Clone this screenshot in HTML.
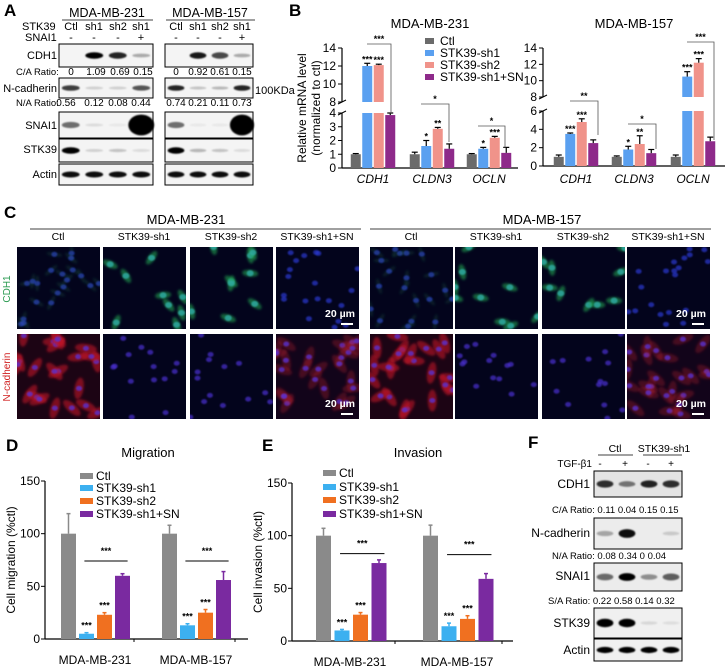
<!DOCTYPE html>
<html><head><meta charset="utf-8">
<style>
html,body{margin:0;padding:0;background:#fff;}
svg{display:block;font-family:"Liberation Sans",Arial,sans-serif;}
</style></head>
<body>
<svg id="fig" width="726" height="671" viewBox="0 0 726 671" xmlns="http://www.w3.org/2000/svg">
<defs>
<filter id="blur1" x="-50%" y="-50%" width="200%" height="200%"><feGaussianBlur stdDeviation="1.3"/></filter>
<filter id="blur2" x="-50%" y="-50%" width="200%" height="200%"><feGaussianBlur stdDeviation="0.9"/></filter>
</defs>
<rect width="726" height="671" fill="#fff"/>

<text x="4" y="16" font-size="17" font-weight="bold">A</text>
<text x="289" y="16" font-size="17" font-weight="bold">B</text>
<text x="4" y="218" font-size="17" font-weight="bold">C</text>
<text x="6" y="451" font-size="17" font-weight="bold">D</text>
<text x="262" y="451" font-size="17" font-weight="bold">E</text>
<text x="528" y="448" font-size="17" font-weight="bold">F</text>

<g id="panelA" font-size="11">
  <text x="107" y="17" text-anchor="middle" font-size="12.5">MDA-MB-231</text>
  <line x1="62" y1="20" x2="153" y2="20" stroke="#000" stroke-width="0.8"/>
  <text x="210" y="17" text-anchor="middle" font-size="12.5">MDA-MB-157</text>
  <line x1="166" y1="20" x2="255" y2="20" stroke="#000" stroke-width="0.8"/>
  <text x="22" y="30">STK39</text>
  <text x="25" y="41">SNAI1</text>
  <text x="57" y="59" text-anchor="end">CDH1</text>
  <text x="16" y="75" font-size="9.5">C/A Ratio:</text>
  <text x="57" y="92" text-anchor="end">N-cadherin</text>
  <text x="16" y="106" font-size="9.5">N/A Ratio:</text>
  <text x="57" y="129" text-anchor="end">SNAI1</text>
  <text x="57" y="153" text-anchor="end">STK39</text>
  <text x="57" y="178" text-anchor="end">Actin</text>
  <text x="255" y="94" font-size="11">100KDa</text>
</g>

<g id="panelC">
  <text x="186" y="224" text-anchor="middle" font-size="13">MDA-MB-231</text>
  <line x1="30" y1="229" x2="361" y2="229" stroke="#000" stroke-width="0.8"/>
  <text x="542" y="224" text-anchor="middle" font-size="13">MDA-MB-157</text>
  <line x1="370" y1="229" x2="711" y2="229" stroke="#000" stroke-width="0.8"/>
  <text x="10" y="289" font-size="10" fill="#2a9a50" transform="rotate(-90 10 289)" text-anchor="middle">CDH1</text>
  <text x="10" y="377" font-size="10" fill="#d02020" transform="rotate(-90 10 377)" text-anchor="middle">N-cadherin</text>
</g>

<g id="panelF" font-size="11">
  <text x="615" y="452" text-anchor="middle" font-size="10.5">Ctl</text>
  <line x1="598" y1="455" x2="633" y2="455" stroke="#000" stroke-width="0.8"/>
  <text x="664" y="452" text-anchor="middle" font-size="10.5">STK39-sh1</text>
  <line x1="643" y1="455" x2="682" y2="455" stroke="#000" stroke-width="0.8"/>
  <text x="592" y="467" text-anchor="end" font-size="10">TGF-β1</text>
  <text x="600" y="467" text-anchor="middle" font-size="10">-</text>
  <text x="625" y="467" text-anchor="middle" font-size="10">+</text>
  <text x="648" y="467" text-anchor="middle" font-size="10">-</text>
  <text x="671" y="467" text-anchor="middle" font-size="10">+</text>
  <text x="590" y="488" text-anchor="end" font-size="12">CDH1</text>
  <text x="552" y="513" font-size="9.5">C/A Ratio: 0.11  0.04 0.15 0.15</text>
  <text x="590" y="537" text-anchor="end" font-size="12">N-cadherin</text>
  <text x="552" y="559" font-size="9.5">N/A Ratio:  0.08  0.34   0     0.04</text>
  <text x="590" y="580" text-anchor="end" font-size="12">SNAI1</text>
  <text x="548" y="604" font-size="9.5">S/A Ratio: 0.22  0.58 0.14 0.32</text>
  <text x="590" y="627" text-anchor="end" font-size="12">STK39</text>
  <text x="590" y="654" text-anchor="end" font-size="12">Actin</text>
</g>
</svg>

<script>
// ===== Panel B data =====
var bGenes = ["CDH1","CLDN3","OCLN"];
var bGroups = ["Ctl","STK39-sh1","STK39-sh2","STK39-sh1+SN"];
var b231Ctl = [1, 1, 1];
var b231Sh1 = [12.0, 1.6, 1.4];
var b231Sh2 = [12.1, 2.85, 2.2];
var b231SN = [3.85, 1.4, 1.1];
var b231Err = [[0.05,0.3,0.1,0.15],[0.15,0.4,0.1,0.35],[0.05,0.1,0.1,0.4]];
var b157Ctl = [1, 1, 1];
var b157Sh1 = [3.5, 1.8, 10.5];
var b157Sh2 = [4.8, 2.4, 12.2];
var b157SN = [2.5, 1.4, 2.7];
var b157Err = [[0.2,0.1,0.35,0.35],[0.1,0.35,0.9,0.4],[0.2,0.6,0.5,0.45]];
var b231Stars = [["","***","***",""],["","*","**",""],["","*","***",""]];
var b157Stars = [["","***","***",""],["","*","**",""],["","***","***",""]];
var bLowTicks231 = [0,1,2,3,4];
var bLowTicks157 = [0,2,4,6];
var bHighTicks = [8,10,12,14];

// ===== Panel D / E data =====
var deLines = ["MDA-MB-231","MDA-MB-157"];
var deGroups = ["Ctl","STK39-sh1","STK39-sh2","STK39-sh1+SN"];
var migCtl = [100, 100];
var migSh1 = [5, 13];
var migSh2 = [23, 25];
var migSN = [60, 56];
var migErr = [[19,1,2,2],[8,1.5,3,8]];
var migSigLevel = [74, 74];
var invCtl = [100, 100];
var invSh1 = [10, 14];
var invSh2 = [25, 21];
var invSN = [74, 59];
var invErr = [[7,1,2,3],[10,3,3,5]];
var invSigLevel = [83, 82];
var deTicks = [0,50,100,150];

// ===== Blot data (band intensities) =====
var aCDH1_231 = [0, 1.0, 0.85, 0.3];
var aCDH1_157 = [0, 0.9, 0.7, 0.3];
var aNcad_231 = [0.75, 0.15, 0.15, 0.65];
var aNcad_157 = [0.85, 0.2, 0.25, 0.85];
var aSnai_231 = [0.55, 0.1, 0.05, 3];
var aSnai_157 = [0.55, 0.05, 0.05, 3];
var aStk_231 = [1.0, 0.15, 0.2, 0.1];
var aStk_157 = [1.2, 0.25, 0.2, 0.1];
var aActin = [0.95, 0.95, 0.95, 0.95];
var aCA_231 = ["0","1.09","0.69","0.15"];
var aCA_157 = ["0","0.92","0.61","0.15"];
var aNA_231 = ["0.56","0.12","0.08","0.44"];
var aNA_157 = ["0.74","0.21","0.11","0.73"];
var fCDH1 = [0.8, 0.5, 0.85, 0.8];
var fNcad = [0.3, 0.95, 0, 0.15];
var fSnai = [0.55, 1.2, 0.4, 0.6];
var fStk = [1.0, 1.0, 0.1, 0.08];
var fActin = [1, 1, 1, 1];

var NS = "http://www.w3.org/2000/svg";
var svg = document.getElementById("fig");
function mk(tag, attrs, parent){
  var e = document.createElementNS(NS, tag);
  for (var k in attrs) e.setAttribute(k, attrs[k]);
  (parent||svg).appendChild(e);
  return e;
}
function txt(x,y,s,size,anchor,parent,extra){
  var t = mk("text",{x:x,y:y,"font-size":size,"text-anchor":anchor||"start"},parent);
  if(extra) for(var k in extra) t.setAttribute(k,extra[k]);
  t.textContent = s;
  return t;
}

// ===== Blots =====
function blotBox(x,y,w,h,vals,name,bg){
  var g = mk("g",{});
  
  
  mk("rect",{x:x,y:y,width:w,height:h,fill:bg||"#f4f4f4",stroke:"#000","stroke-width":1},g);
  var lw = w/vals.length;
  for (var i=0;i<vals.length;i++){
    var v = vals[i]; if (v<=0) continue;
    var cx = x + lw*(i+0.5);
    var big = v>1.5;
    var rx = big ? lw*0.55 : lw*0.38;
    var ry = big ? h*0.4 : Math.max(1.5, h*0.14*Math.min(1,v+0.3));
    var b = mk("ellipse",{cx:cx,cy:y+h/2,rx:rx,ry:ry,fill:"#000","fill-opacity":Math.min(1,big?1:v),filter:"url(#blur2)"},g);
    
    
  }
}
blotBox(59,44,94,23,aCDH1_231,"blot-cdh1-231");
blotBox(165,44,88,23,aCDH1_157,"blot-cdh1-157");
blotBox(59,78,94,20,aNcad_231,"blot-ncad-231");
blotBox(165,78,88,20,aNcad_157,"blot-ncad-157");
blotBox(59,112,94,26,aSnai_231,"blot-snai1-231");
blotBox(165,112,88,26,aSnai_157,"blot-snai1-157");
blotBox(59,139,94,23,aStk_231,"blot-stk39-231");
blotBox(165,139,88,23,aStk_157,"blot-stk39-157");
blotBox(59,164,94,21,aActin,"blot-actin-231");
blotBox(165,164,88,21,aActin,"blot-actin-157");
var lanes231=[71,94,118,141], lanes157=[176,198,220,242];
var laneHdr=["Ctl","sh1","sh2","sh1"], snaHdr=["-","-","-","+"];
for (var i=0;i<4;i++){
  txt(lanes231[i],30,laneHdr[i],11,"middle");
  txt(lanes157[i],30,laneHdr[i],11,"middle");
  txt(lanes231[i],41,snaHdr[i],11,"middle");
  txt(lanes157[i],41,snaHdr[i],11,"middle");
  txt(lanes231[i]+(i==0?0:2),75,aCA_231[i],10,"middle");
  txt(lanes157[i],75,aCA_157[i],10,"middle");
  txt(lanes231[i]-(i==0?5:0),106,aNA_231[i],10,"middle");
  txt(lanes157[i],106,aNA_157[i],10,"middle");
}
blotBox(594,471,88,26,fCDH1,"f-blot-cdh1","#e4e4e4");
blotBox(594,518,88,31,fNcad,"f-blot-ncad","#ececec");
blotBox(594,563,88,28,fSnai,"f-blot-snai1","#ececec");
blotBox(594,608,88,30,fStk,"f-blot-stk39","#f0f0f0");
blotBox(594,639,88,22,fActin,"f-blot-actin","#f0f0f0");

// ===== Immunofluorescence (decorative) =====
var seed = 7;
function rnd(){ seed = (seed*9301+49297)%233280; return seed/233280; }
function ifPanel(x,y,w,h,type,name,scale){
  var g = mk("g",{});
  
  
  var bg = type=="redhigh" ? "#1c0414" : (type=="redmid" ? "#12041a" : "#03041c");
  mk("rect",{x:x,y:y,width:w,height:h,fill:bg},g);
  var clip = mk("clipPath",{id:"c"+name},g);
  mk("rect",{x:x,y:y,width:w,height:h},clip);
  var inner = mk("g",{"clip-path":"url(#c"+name+")"},g);
  var n = type=="green"?9:(type=="redhigh"?22:(type=="redmid"?24:(type=="blue"?14:20)));
  for (var i=0;i<n;i++){
    var cx = x+rnd()*w, cy = y+rnd()*h, a = rnd()*180;
    if (type=="green"){
      mk("ellipse",{cx:cx,cy:cy,rx:8,ry:3.5,fill:"#20a050","fill-opacity":0.6,transform:"rotate("+a+" "+cx+" "+cy+")",filter:"url(#blur1)"},inner);
      mk("ellipse",{cx:cx,cy:cy,rx:3.5,ry:3,fill:"#30a8a0","fill-opacity":0.85,filter:"url(#blur2)"},inner);
    } else if (type=="redhigh" || type=="redmid"){
      mk("ellipse",{cx:cx,cy:cy,rx:11,ry:4.5,fill:"#c01828","fill-opacity":type=="redhigh"?0.6:0.3,transform:"rotate("+a+" "+cx+" "+cy+")",filter:"url(#blur1)"},inner);
      mk("ellipse",{cx:cx,cy:cy,rx:3,ry:2.5,fill:"#5a30d0","fill-opacity":0.8,filter:"url(#blur2)"},inner);
    } else {
      mk("ellipse",{cx:cx,cy:cy,rx:3,ry:2.5,fill:type=="blue"?"#4a30d0":"#2838d0","fill-opacity":0.7,filter:"url(#blur2)"},inner);
      if (type=="bluegreen") mk("ellipse",{cx:cx,cy:cy,rx:8,ry:2,fill:"#207050","fill-opacity":0.25,transform:"rotate("+a+" "+cx+" "+cy+")",filter:"url(#blur1)"},inner);
    }
  }
  if (scale){
    txt(x+w-4,y+h-12,"20 µm",10.5,"end",g,{fill:"#fff","font-weight":"bold"});
    mk("line",{x1:x+w-18,y1:y+h-5,x2:x+w-6,y2:y+h-5,stroke:"#fff","stroke-width":2},g);
  }
}
var ifCols231=[17,103,190,276], ifCols157=[370,455,542,627];
var ifLabels=["Ctl","STK39-sh1","STK39-sh2","STK39-sh1+SN"];
var row1_231=["bluegreen","green","green","bluefaint"], row2_231=["redhigh","blue","blue","redmid"];
var row1_157=["bluegreen","green","green","bluefaint"], row2_157=["redhigh","blue","blue","redmid"];
for (var i=0;i<4;i++){
  txt(ifCols231[i]+41,240,ifLabels[i],10.5,"middle");
  txt(ifCols157[i]+41,240,ifLabels[i],10.5,"middle");
  ifPanel(ifCols231[i],247,83,82,row1_231[i],"if-231-cdh1-"+i,i==3);
  ifPanel(ifCols231[i],334,83,85,row2_231[i],"if-231-ncad-"+i,i==3);
  ifPanel(ifCols157[i],247,83,82,row1_157[i],"if-157-cdh1-"+i,i==3);
  ifPanel(ifCols157[i],334,83,85,row2_157[i],"if-157-ncad-"+i,i==3);
}

// ===== Panel B charts =====
var bColors = ["#6b6b6b","#5aa0f0","#f0938a","#8e2a8a"];
function bChart(o){
  var g = mk("g",{});
  
  
  function y(v){
    if (v <= o.lowMax) return o.y0 - v*(o.y0-o.lowTop)/o.lowMax;
    return o.hiBot - (v-8)*(o.hiBot-o.hiTop)/6;
  }
  txt((o.ax+o.xend)/2,28,o.title,13,"middle",g);
  mk("line",{x1:o.ax,y1:o.y0,x2:o.ax,y2:o.lowTop,stroke:"#000","stroke-width":1.2},g);
  mk("line",{x1:o.ax,y1:o.hiBot,x2:o.ax,y2:o.hiTop,stroke:"#000","stroke-width":1.2},g);
  mk("line",{x1:o.ax-4,y1:o.lowTop+2,x2:o.ax+4,y2:o.lowTop-2,stroke:"#000"},g);
  mk("line",{x1:o.ax-4,y1:o.hiBot+2,x2:o.ax+4,y2:o.hiBot-2,stroke:"#000"},g);
  mk("line",{x1:o.ax,y1:o.y0,x2:o.xend,y2:o.y0,stroke:"#000","stroke-width":1.2},g);
  o.lowTicks.forEach(function(t){
    mk("line",{x1:o.ax-4,y1:y(t),x2:o.ax,y2:y(t),stroke:"#000"},g);
    txt(o.ax-6,y(t)+4,String(t),12,"end",g);
  });
  bHighTicks.forEach(function(t){
    mk("line",{x1:o.ax-4,y1:y(t),x2:o.ax,y2:y(t),stroke:"#000"},g);
    txt(o.ax-6,y(t)+4,String(t),12,"end",g);
  });
  var series=[o.ctl,o.sh1,o.sh2,o.sn];
  for (var gi=0;gi<bGenes.length;gi++){
    var c = o.centers[gi];
    txt(c,183,bGenes[gi],12,"middle",g,{"font-style":"italic"});
    for (var s=0;s<4;s++){
      var v = series[s][gi];
      var bx = c + (s-1.5)*11.5 - 5;
      var b;
      if (v > o.lowMax){
        b = mk("rect",{x:bx,y:o.lowTop,width:10,height:o.y0-o.lowTop,fill:bColors[s]},g);
        mk("rect",{x:bx,y:y(v),width:10,height:o.hiBot-y(v),fill:bColors[s]},g);
      } else {
        b = mk("rect",{x:bx,y:y(v),width:10,height:o.y0-y(v),fill:bColors[s]},g);
      }
      
      
      var e = o.err[gi][s], yt = y(v+e);
      mk("line",{x1:bx+5,y1:y(v),x2:bx+5,y2:yt,stroke:"#000","stroke-width":1.2},g);
      mk("line",{x1:bx+2,y1:yt,x2:bx+8,y2:yt,stroke:"#000","stroke-width":1.2},g);
      if (o.stars[gi][s]) txt(bx+5,yt-1,o.stars[gi][s],9,"middle",g,{"font-weight":"bold"});
    }
  }
  return g;
}
bChart({name:"chart-b-231",title:"MDA-MB-231",ax:342,xend:518,y0:168,lowTop:113,lowMax:4,hiBot:102,hiTop:48,
  lowTicks:bLowTicks231,centers:[373,432,489],ctl:b231Ctl,sh1:b231Sh1,sh2:b231Sh2,sn:b231SN,err:b231Err,stars:b231Stars});
bChart({name:"chart-b-157",title:"MDA-MB-157",ax:543,xend:725,y0:166,lowTop:111,lowMax:6,hiBot:97,hiTop:48,
  lowTicks:bLowTicks157,centers:[576,634,693],ctl:b157Ctl,sh1:b157Sh1,sh2:b157Sh2,sn:b157SN,err:b157Err,stars:b157Stars});
txt(306,108,"Relative mRNA level",12,"middle",svg,{transform:"rotate(-90 306 108)"});
txt(320,108,"(normalized to ctl)",12,"middle",svg,{transform:"rotate(-90 320 108)"});
function bracket(x1,x2,ytop,ybot1,ybot2,label){
  mk("polyline",{points:x1+","+ybot1+" "+x1+","+ytop+" "+x2+","+ytop+" "+x2+","+ybot2,fill:"none",stroke:"#555","stroke-width":0.8});
  txt((x1+x2)/2,ytop-2,label,9,"middle",svg,{"font-weight":"bold"});
}
bracket(367,391,44,44,114,"***");
bracket(421,449,104,104,142,"*");
bracket(478,505,126,126,148,"*");
bracket(570,598,101,101,135,"**");
bracket(628,656,124,124,149,"*");
bracket(687,714,42,42,140,"***");
var bLegY=[43,55,67,79];
for (var i=0;i<4;i++){
  var r = mk("rect",{x:425,y:bLegY[i]-5,width:9,height:6,fill:bColors[i]});
  
  
  txt(440,bLegY[i]+2,bGroups[i],12,"start");
}

// ===== Panels D and E =====
var deColors = ["#8a8a8a","#3cb0f0","#f07020","#7a2aa0"];
function deChart(o){
  var g = mk("g",{});
  
  
  function y(v){ return o.y0 - v*(o.y0-o.y150)/150; }
  txt(o.titleX,457,o.title,13,"middle",g);
  mk("line",{x1:o.ax,y1:o.y0,x2:o.ax,y2:o.y150,stroke:"#000","stroke-width":1.2},g);
  mk("line",{x1:o.ax,y1:o.y0,x2:o.xend,y2:o.y0,stroke:"#000","stroke-width":1.2},g);
  deTicks.forEach(function(t){
    mk("line",{x1:o.ax-4,y1:y(t),x2:o.ax,y2:y(t),stroke:"#000"},g);
    txt(o.ax-5,y(t)+4,String(t),12,"end",g);
  });
  txt(o.ax-30,(o.y0+o.y150)/2,o.ylabel,12,"middle",g,{transform:"rotate(-90 "+(o.ax-30)+" "+((o.y0+o.y150)/2)+")"});
  var series=[o.ctl,o.sh1,o.sh2,o.sn];
  for (var li=0;li<deLines.length;li++){
    var base = o.x0 + li*o.groupStep;
    txt(base+34,o.y0+25,deLines[li],12,"middle",g);
    mk("line",{x1:base+o.groupStep-28,y1:o.y0,x2:base+o.groupStep-28,y2:o.y0+3,stroke:"#000"},g);
    for (var s=0;s<4;s++){
      var v = series[s][li], bx = base + s*o.slot;
      var b = mk("rect",{x:bx,y:y(v),width:o.bw,height:o.y0-y(v),fill:deColors[s]},g);
      
      
      var e = o.err[li][s], yt=y(v+e);
      mk("line",{x1:bx+o.bw/2,y1:y(v),x2:bx+o.bw/2,y2:yt,stroke:deColors[s],"stroke-width":1.5},g);
      mk("line",{x1:bx+o.bw/2-2,y1:yt,x2:bx+o.bw/2+2,y2:yt,stroke:deColors[s],"stroke-width":1.5},g);
      if (s==1 || s==2) txt(bx+o.bw/2,yt-4,"***",9,"middle",g,{"font-weight":"bold"});
    }
    var ly = y(o.sig[li]);
    mk("line",{x1:base+o.slot*1.3,y1:ly,x2:base+o.slot*3.7,y2:ly,stroke:"#000","stroke-width":1},g);
    txt(base+o.slot*2.5,ly-7,"***",9,"middle",g,{"font-weight":"bold"});
  }
  for (var i=0;i<4;i++){
    var r = mk("rect",{x:o.legX,y:o.legY[i]-5,width:13,height:6,fill:deColors[i]},g);
    
    
    txt(o.legX+16,o.legY[i]+2,deGroups[i],12,"start",g);
  }
}
deChart({name:"chart-d-migration",key:"mig",title:"Migration",titleX:148,ylabel:"Cell migration (%ctl)",ax:45,xend:248,y0:639,y150:481,
  x0:61,groupStep:101,slot:18,bw:15,ctl:migCtl,sh1:migSh1,sh2:migSh2,sn:migSN,err:migErr,sig:migSigLevel,legX:80,legY:[478,490,503,516]});
deChart({name:"chart-e-invasion",key:"inv",title:"Invasion",titleX:418,ylabel:"Cell invasion (%ctl)",ax:292,xend:513,y0:641,y150:483,
  x0:316,groupStep:107,slot:18.5,bw:15,ctl:invCtl,sh1:invSh1,sh2:invSh2,sn:invSN,err:invErr,sig:invSigLevel,legX:323,legY:[475,489,502,516]});
</script>
</body></html>
